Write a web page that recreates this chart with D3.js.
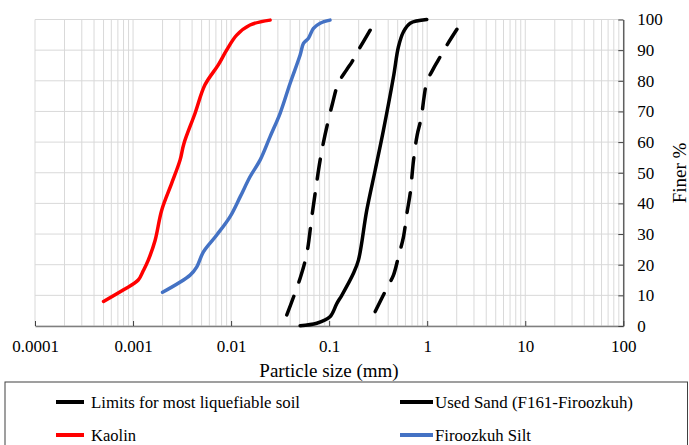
<!DOCTYPE html>
<html>
<head>
<meta charset="utf-8">
<script src="https://cdn.jsdelivr.net/npm/d3@7/dist/d3.min.js"></script>
<style>
  html, body { margin: 0; padding: 0; background: #fff; }
  svg { display: block; }
  svg text { font-family: 'Liberation Serif', 'Times New Roman', 'DejaVu Serif', serif; }
</style>
</head>
<body>
<div id="chart"></div>
<script>
// ── Data (particle size in mm, percent finer) ───────────────────────────────────
var xTicks = [0.0001, 0.001, 0.01, 0.1, 1, 10, 100];
var xTickLabels = ['0.0001', '0.001', '0.01', '0.1', '1', '10', '100'];
var yTicks = [0, 10, 20, 30, 40, 50, 60, 70, 80, 90, 100];

var limitLowSize  = [0.037, 0.0506, 0.0592, 0.0666, 0.072, 0.081, 0.091, 0.108, 0.124, 0.15, 0.171, 0.199, 0.262];
var limitLowFiner = [3.6, 15.6, 23.7, 35.7, 43.3, 54.2, 62.5, 72.5, 79.2, 83.5, 86.2, 90, 96.5];

var limitHighSize  = [0.295, 0.387, 0.453, 0.509, 0.573, 0.621, 0.671, 0.726, 0.79, 0.87, 0.93, 0.993, 1.15, 1.3, 1.53, 2.01];
var limitHighFiner = [4.7, 12.3, 16.6, 22.6, 29.1, 36.8, 43.3, 54.2, 62.3, 68, 74.8, 79.7, 83.8, 86.8, 90.8, 96.8];

var sandSize  = [0.0506, 0.0748, 0.102, 0.12, 0.135, 0.177, 0.199, 0.242, 0.295, 0.358, 0.453, 0.509, 0.573, 0.671, 0.99];
var sandFiner = [0.1, 0.9, 3, 7.4, 10.1, 17.2, 21.5, 37.8, 50.9, 63.9, 81.3, 91.1, 96, 98.8, 100];

var kaolinSize  = [0.0005, 0.0008, 0.00113, 0.00127, 0.00143, 0.00168, 0.00196, 0.00248, 0.00302, 0.0033, 0.0043, 0.0054, 0.0074, 0.009, 0.0114, 0.0156, 0.025];
var kaolinFiner = [8, 11.8, 15, 18, 21.5, 28, 37.8, 46.6, 54.2, 59.5, 69.5, 78.6, 85.2, 90, 94.9, 98.2, 99.8];

var siltSize  = [0.002, 0.00382, 0.00447, 0.00522, 0.00714, 0.00977, 0.0124, 0.0156, 0.0198, 0.025, 0.0316, 0.04, 0.0506, 0.0547, 0.0615, 0.0692, 0.0809, 0.102];
var siltFiner = [11, 16.6, 19.3, 24.2, 29.7, 35.7, 42.2, 48.7, 54.2, 61.8, 69.4, 79.2, 88.4, 92.2, 93.9, 97.1, 98.8, 99.8];

var series = [
    { label: 'Limits for most liquefiable soil', size: limitLowSize,  finer: limitLowFiner,  color: '#000000', dash: true },
    { label: null,                               size: limitHighSize, finer: limitHighFiner, color: '#000000', dash: true },
    { label: 'Used Sand (F161-Firoozkuh)',       size: sandSize,      finer: sandFiner,      color: '#000000' },
    { label: 'Kaolin',                           size: kaolinSize,    finer: kaolinFiner,    color: '#ff0000' },
    { label: 'Firoozkuh Silt',                   size: siltSize,      finer: siltFiner,      color: '#4472c4' }
];

// ── Layout ─────────────────────────────────────────────────────────────────────
var width = 689, height = 445;
var plot = { left: 35, right: 623.3, top: 19.5, bottom: 326 };
var serif = "'Liberation Serif', 'Times New Roman', 'DejaVu Serif', serif";

var svg = d3.select('#chart').append('svg')
    .attr('width', width).attr('height', height)
    .attr('font-family', serif);

var x = d3.scaleLog().domain([0.0001, 100]).range([plot.left, plot.right]);
var y = d3.scaleLinear().domain([0, 100]).range([plot.bottom, plot.top]);

// minor + major vertical gridlines (1..9 of each decade)
var gridX = [];
xTicks.slice(0, -1).forEach(function (d) {
    for (var k = 1; k <= 9; k++) gridX.push(d * k);
});
gridX.push(100);

var grid = svg.append('g').attr('stroke', '#d9d9d9').attr('stroke-width', 1);
grid.selectAll('line.vx').data(gridX).enter().append('line')
    .attr('x1', function (d) { return x(d); }).attr('x2', function (d) { return x(d); })
    .attr('y1', plot.top).attr('y2', plot.bottom);
grid.selectAll('line.hy').data(yTicks).enter().append('line')
    .attr('x1', plot.left).attr('x2', plot.right)
    .attr('y1', function (d) { return y(d); }).attr('y2', function (d) { return y(d); });

// bottom axis (ticks point inward)
var xAxis = svg.append('g')
    .attr('transform', 'translate(0,' + plot.bottom + ')')
    .call(d3.axisBottom(x).tickValues(xTicks).tickSizeInner(-5).tickSizeOuter(0)
        .tickFormat(function (d, i) { return xTickLabels[i]; }));
xAxis.attr('font-family', serif).attr('font-size', 17);
xAxis.select('.domain').attr('stroke', '#7f7f7f').attr('stroke-width', 1.5);
xAxis.selectAll('.tick line').attr('stroke', '#404040');
xAxis.selectAll('.tick text')
    .attr('y', 0).attr('dy', '25.5px')
    .attr('fill', '#000');

// right axis (ticks point inward)
var yAxis = svg.append('g')
    .attr('transform', 'translate(' + plot.right + ',0)')
    .call(d3.axisRight(y).tickValues(yTicks).tickSizeInner(-5).tickSizeOuter(0));
yAxis.attr('font-family', serif).attr('font-size', 17);
yAxis.select('.domain').attr('stroke', '#404040').attr('stroke-width', 1.2);
yAxis.selectAll('.tick line').attr('stroke', '#404040');
yAxis.selectAll('.tick text')
    .attr('x', 14).attr('text-anchor', 'start')
    .attr('fill', '#000');

// axis titles
svg.append('text')
    .attr('x', 329).attr('y', 377)
    .attr('text-anchor', 'middle')
    .attr('font-size', 19)
    .text('Particle size (mm)');
svg.append('text')
    .attr('transform', 'translate(686,173) rotate(-90)')
    .attr('text-anchor', 'middle')
    .attr('font-size', 19)
    .text('Finer %');

// ── Curves ─────────────────────────────────────────────────────────────────────
var lineGen = d3.line()
    .x(function (d) { return x(d[0]); })
    .y(function (d) { return y(d[1]); })
    .curve(d3.curveCatmullRom.alpha(0.5));

series.forEach(function (sr) {
    var pts = sr.size.map(function (s, i) { return [s, sr.finer[i]]; });
    svg.append('path')
        .datum(pts)
        .attr('fill', 'none')
        .attr('stroke', sr.color)
        .attr('stroke-width', 3.5)
        .attr('stroke-linecap', 'round')
        .attr('stroke-linejoin', 'round')
        .attr('stroke-dasharray', sr.dash ? '20 15' : null)
        .attr('d', lineGen);
});

// ── Legend ─────────────────────────────────────────────────────────────────────
svg.append('rect')
    .attr('x', 5).attr('y', 382)
    .attr('width', 682.5).attr('height', 80)
    .attr('fill', '#fff').attr('stroke', '#404040').attr('stroke-width', 1);

var legendItems = [
    { s: series[0], x: 56,  sw: 28, tx: 91,  ty: 402, tl: 209 },
    { s: series[2], x: 400, sw: 33, tx: 435, ty: 402, tl: 198 },
    { s: series[3], x: 56,  sw: 28, tx: 91,  ty: 435, tl: 45 },
    { s: series[4], x: 400, sw: 33, tx: 435, ty: 435, tl: 96 }
];
legendItems.forEach(function (it) {
    svg.append('line')
        .attr('x1', it.x).attr('x2', it.x + it.sw)
        .attr('y1', it.ty).attr('y2', it.ty)
        .attr('stroke', it.s.color).attr('stroke-width', 4);
    svg.append('text')
        .attr('x', it.tx).attr('y', it.ty + 5.5)
        .attr('textLength', it.tl).attr('lengthAdjust', 'spacingAndGlyphs')
        .attr('font-size', 16)
        .text(it.s.label);
});
</script>
</body>
</html>
